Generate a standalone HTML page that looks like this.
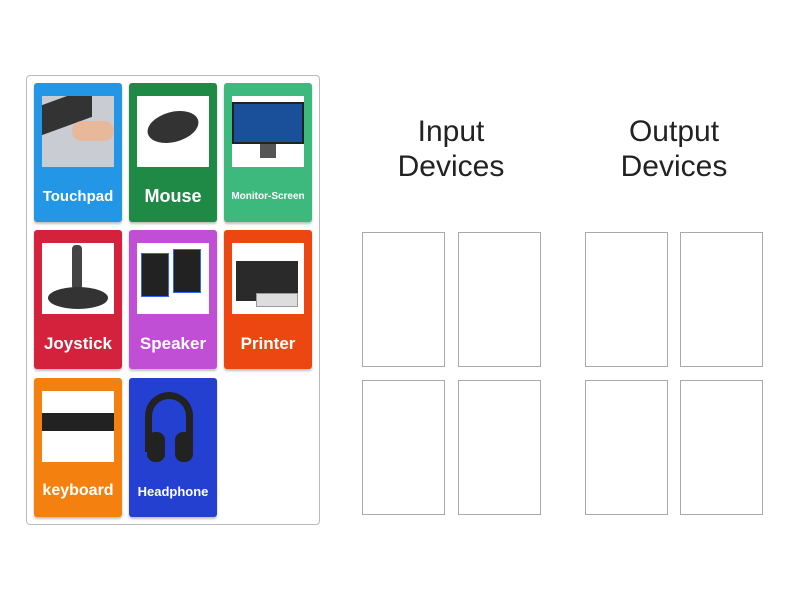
<!DOCTYPE html>
<html><head><style>
body{margin:0;width:800px;height:600px;background:#fff;position:relative;font-family:"Liberation Sans",sans-serif;overflow:hidden}
.box{position:absolute;left:26px;top:75px;width:292px;height:448px;border:1px solid #bbb;border-radius:4px}
.c{position:absolute;width:88px;height:139px;border-radius:3px;box-shadow:0 2px 2px rgba(0,0,0,.25)}
.c .im{position:absolute;left:8px;top:13px;width:72px;height:71px;background:#fff;overflow:hidden}
.c .t{position:absolute;left:0;right:0;top:104px;text-align:center;color:#fff;font-weight:bold;font-size:17px}
.d{position:absolute;width:81px;height:133px;border:1px solid #aaa}
.h{position:absolute;width:200px;text-align:center;font-size:30px;color:#222;line-height:35px;top:114px}
</style></head><body>
<div class="box"></div>
<div class="c" style="left:34px;top:83px;background:#2396e6"><div class="im" style="background:#c9ccd2"><div style="position:absolute;left:0;top:0;width:50px;height:30px;background:#333;transform:skewY(-20deg)"></div><div style="position:absolute;left:30px;top:25px;width:42px;height:20px;background:#e8b89a;border-radius:10px"></div></div><div class="t" style="font-size:15px;top:105px">Touchpad</div></div>
<div class="c" style="left:129px;top:83px;background:#1f8a45"><div class="im"><div style="position:absolute;left:10px;top:16px;width:52px;height:30px;background:#333;border-radius:50%;transform:rotate(-15deg)"></div></div><div class="t" style="font-size:18px;top:103px">Mouse</div></div>
<div class="c" style="left:224px;top:83px;background:#3db97d"><div class="im"><div style="position:absolute;left:0;top:6px;width:72px;height:42px;background:#1a4f9a;border:2px solid #222;box-sizing:border-box"></div><div style="position:absolute;left:28px;top:48px;width:16px;height:14px;background:#555"></div></div><div class="t" style="font-size:10px;top:108px">Monitor-Screen</div></div>
<div class="c" style="left:34px;top:230px;background:#d4213c"><div class="im"><div style="position:absolute;left:30px;top:2px;width:10px;height:45px;background:#444;border-radius:4px"></div><div style="position:absolute;left:6px;top:44px;width:60px;height:22px;background:#333;border-radius:50%"></div></div><div class="t">Joystick</div></div>
<div class="c" style="left:129px;top:230px;background:#c04fd6"><div class="im"><div style="position:absolute;left:4px;top:10px;width:26px;height:42px;background:#222;border:1px solid #36f"></div><div style="position:absolute;left:36px;top:6px;width:26px;height:42px;background:#222;border:1px solid #36f"></div></div><div class="t">Speaker</div></div>
<div class="c" style="left:224px;top:230px;background:#ec4710"><div class="im"><div style="position:absolute;left:4px;top:18px;width:62px;height:40px;background:#2a2a2a"></div><div style="position:absolute;left:24px;top:50px;width:40px;height:12px;background:#ddd;border:1px solid #999"></div></div><div class="t">Printer</div></div>
<div class="c" style="left:34px;top:378px;background:#f4800f"><div class="im"><div style="position:absolute;left:0;top:22px;width:72px;height:18px;background:#222"></div></div><div class="t" style="font-size:16px">keyboard</div></div>
<div class="c" style="left:129px;top:378px;background:#2340d0"><div style="position:absolute;left:16px;top:14px;width:48px;height:60px;border:7px solid #222;border-bottom:none;border-radius:30px 30px 0 0;box-sizing:border-box"></div><div style="position:absolute;left:18px;top:54px;width:18px;height:30px;background:#222;border-radius:8px"></div><div style="position:absolute;left:46px;top:54px;width:18px;height:30px;background:#222;border-radius:8px"></div><div class="t" style="font-size:13px;top:106px">Headphone</div></div>
<div class="h" style="left:351px">Input<br>Devices</div>
<div class="h" style="left:574px">Output<br>Devices</div>
<div class="d" style="left:362px;top:232px"></div><div class="d" style="left:458px;top:232px"></div>
<div class="d" style="left:585px;top:232px"></div><div class="d" style="left:680px;top:232px"></div>
<div class="d" style="left:362px;top:380px"></div><div class="d" style="left:458px;top:380px"></div>
<div class="d" style="left:585px;top:380px"></div><div class="d" style="left:680px;top:380px"></div>
</body></html>
